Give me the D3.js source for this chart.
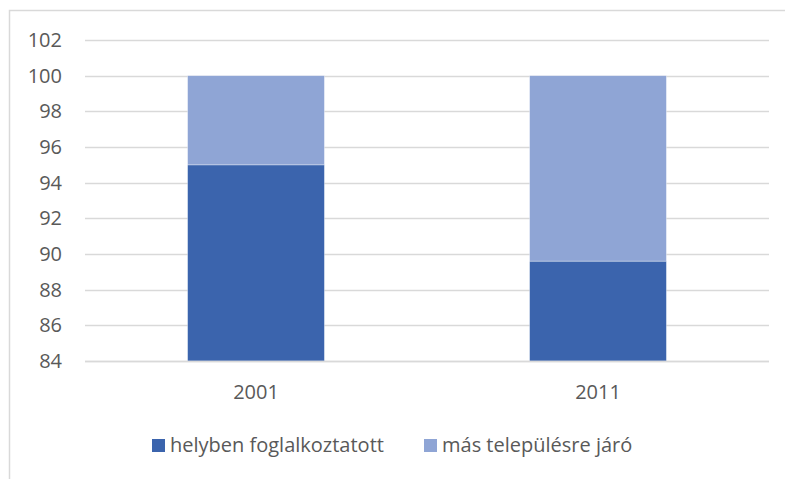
<!DOCTYPE html>
<html>
<head>
<meta charset="utf-8">
<script src="https://cdn.jsdelivr.net/npm/d3@7"></script>
<style>
  body { margin: 0; background: #fff; }
  text { font-family: "Open Sans", "Liberation Sans", sans-serif; fill: #595959; }
</style>
</head>
<body>
<svg width="785" height="479"></svg>
<script>
// chart data
const years = ['2001', '2011'];
const local = [95, 89.6];          // helyben foglalkoztatott
const commuting = [5, 10.4];       // más településre járó
const seriesNames = ['helyben foglalkoztatott', 'más településre járó'];
const seriesColors = ['#3B64AD', '#8FA5D5'];
const yTicks = [84, 86, 88, 90, 92, 94, 96, 98, 100, 102];

const svg = d3.select('svg');

// outer border (left + top only visible)
svg.append('path')
    .attr('d', 'M9.5,479 L9.5,10.5 L785,10.5')
    .style('fill', 'none')
    .style('stroke', '#D9D9D9')
    .style('stroke-width', 1.5);

const x = d3.scaleBand()
    .domain(years)
    .range([85, 769])
    .paddingInner(0.6)
    .paddingOuter(0.3);

const y = d3.scaleLinear()
    .domain([84, 102])
    .range([361, 40]);

// gridlines
svg.selectAll('.grid')
    .data(yTicks)
    .enter()
    .append('line')
    .attr('x1', 85)
    .attr('x2', 769)
    .attr('y1', d => Math.round(y(d)) + 0.5)
    .attr('y2', d => Math.round(y(d)) + 0.5)
    .style('stroke', '#D9D9D9')
    .style('stroke-width', 1.5);

// y labels
svg.selectAll('.ylab')
    .data(yTicks)
    .enter()
    .append('text')
    .attr('x', 62)
    .attr('y', d => y(d))
    .attr('dy', '0.35em')
    .attr('text-anchor', 'end')
    .style('font-size', '20px')
    .text(d => d);

const rows = years.map((yr, i) => ({ year: yr, local: local[i], commuting: commuting[i] }));
const stacked = d3.stack().keys(['local', 'commuting'])(rows);

stacked.forEach((layer, li) => {
    svg.selectAll('.bar' + li)
        .data(layer)
        .enter()
        .append('rect')
        .attr('x', d => x(d.data.year))
        .attr('width', x.bandwidth())
        .attr('y', d => y(d[1]))
        .attr('height', d => y(Math.max(d[0], 84)) - y(d[1]))
        .style('fill', seriesColors[li])
        .style('stroke', 'rgba(255,255,255,0.45)')
        .style('stroke-width', 0.75);
});

// bottom axis line
svg.append('line')
    .attr('x1', 85)
    .attr('x2', 769)
    .attr('y1', Math.round(y(84)) + 0.5)
    .attr('y2', Math.round(y(84)) + 0.5)
    .style('stroke', '#D9D9D9')
    .style('stroke-width', 1.5);

// x labels
svg.selectAll('.xlab')
    .data(years)
    .enter()
    .append('text')
    .attr('x', d => x(d) + x.bandwidth() / 2)
    .attr('y', 399)
    .attr('text-anchor', 'middle')
    .style('font-size', '20px')
    .text(d => d);

// legend
const legendX = [152, 424];
const legend = svg.selectAll('.leg')
    .data(seriesNames)
    .enter()
    .append('g')
    .attr('transform', (d, i) => `translate(${legendX[i]},439)`);

legend.append('rect')
    .attr('width', 13)
    .attr('height', 13)
    .style('fill', (d, i) => seriesColors[i]);

legend.append('text')
    .attr('x', 18)
    .attr('y', 13)
    .style('font-size', '20px')
    .text(d => d);
</script>
</body>
</html>
